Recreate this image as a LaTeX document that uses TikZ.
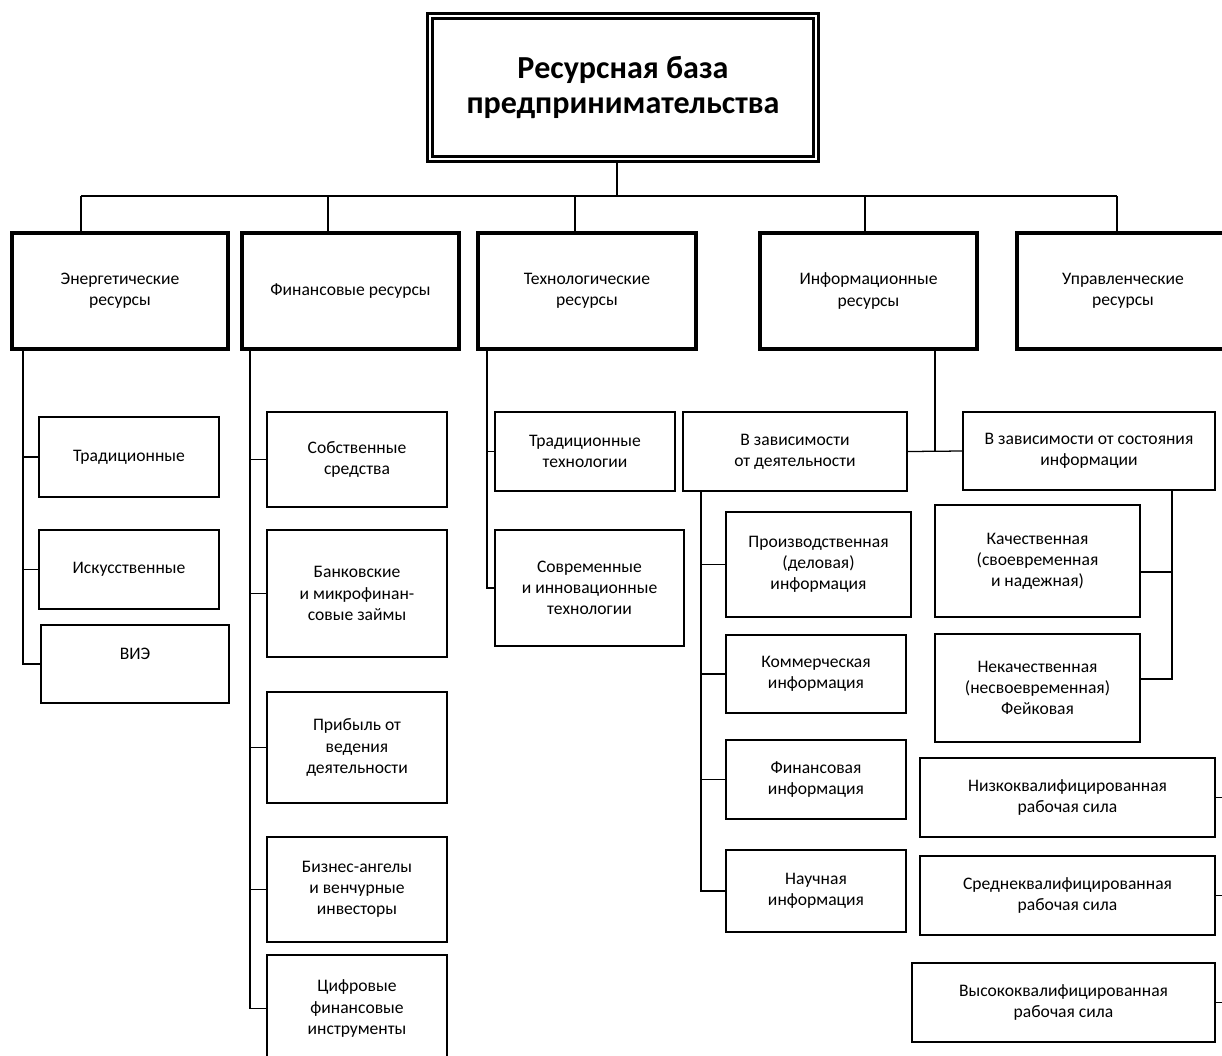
\documentclass[tikz,border=0pt]{standalone}
\usepackage{fontspec}
\setmainfont{Carlito}
\usetikzlibrary{calc}

% box from its corners (in px of the sketch): name, style, x1, y1, x2, y2, text
\newcommand{\resbox}[7]{%
  \pgfmathsetmacro{\bw}{(#5-#3)*0.025}%
  \pgfmathsetmacro{\bh}{(#6-#4)*0.025}%
  \node[#2, minimum width=\bw cm, minimum height=\bh cm] (#1) at ({(#3+#5)/2},{(#4+#6)/2}) {#7};%
}

\begin{document}
\begin{tikzpicture}[x=0.025cm, y=-0.025cm,
  base/.style={align=center, inner sep=0pt, font=\fontsize{12.5}{15}\selectfont},
  head/.style={base, draw, line width=2.4pt},
  item/.style={base, draw, line width=1.5pt},
  topbox/.style={draw, double, line width=1.8pt, double distance=2pt, align=center, inner sep=0pt, font=\fontsize{22.8}{25.5}\selectfont\bfseries},
  link/.style={line width=0.9pt}]
\useasboundingbox (0,0) rectangle (1222,1055);

\resbox{Top}{topbox}{430}{16}{816}{159}{Ресурсная база\\предпринимательства}

\resbox{Energy}{head}{12}{233}{228}{349}{Энергетические\\ресурсы}
\resbox{Finance}{head}{242}{233}{459}{349}{Финансовые ресурсы}
\resbox{Tech}{head}{478}{233}{696}{349}{Технологические\\ресурсы}
\resbox{Info}{head}{760}{233}{977}{349}{Информационные\\ресурсы}
\resbox{Manage}{head}{1017}{233}{1229}{349}{Управленческие\\ресурсы}

\coordinate (Bar) at (617,196);
\coordinate (BarL) at (81,196);
\coordinate (BarR) at (1117,196);
\draw[link] (Top.south -| Bar) -- (Bar);
\draw[link] (BarL) -- (BarR);
\foreach \n/\x in {Energy/81, Finance/328, Tech/575, Info/865, Manage/1117}{
  \coordinate (d\n) at (\x,196);
  \draw[link] (d\n) -- (d\n |- \n.north);
}

\resbox{Trad}{item}{39}{417}{219}{497}{Традиционные}
\resbox{Artif}{item}{39}{530}{219}{609}{Искусственные}
\resbox{Vie}{item}{41}{625}{229}{703}{ВИЭ\\\mbox{}}
\coordinate (eL) at (23,349);
\draw[link] (eL) |- (Vie.west);
\foreach \n in {Trad,Artif}
  \draw[link] (eL |- \n.west) -- (\n.west);

\resbox{Own}{item}{267}{412}{447}{507}{Собственные\\средства}
\resbox{Loans}{item}{267}{530}{447}{657}{Банковские\\и микрофинан-\\совые займы}
\resbox{Profit}{item}{267}{692}{447}{803}{Прибыль от\\ведения\\деятельности}
\resbox{Angels}{item}{267}{837}{447}{942}{Бизнес-ангелы\\и венчурные\\инвесторы}
\resbox{Digital}{item}{267}{955}{447}{1062}{Цифровые\\финансовые\\инструменты}
\coordinate (fL) at (250,349);
\draw[link] (fL) |- (Digital.west);
\foreach \n in {Own,Loans,Profit,Angels}
  \draw[link] (fL |- \n.west) -- (\n.west);

\resbox{TradTech}{item}{495}{412}{675}{491}{Традиционные\\технологии}
\resbox{Modern}{item}{495}{530}{684}{646}{Современные\\и инновационные\\технологии}
\coordinate (tL) at (487,349);
\draw[link] (tL) |- (Modern.west);
\draw[link] (tL |- TradTech.west) -- (TradTech.west);

\resbox{ByAct}{item}{683}{412}{907}{491}{В зависимости\\от деятельности}
\resbox{ByState}{item}{963}{412}{1215}{490}{В зависимости от состояния\\информации}
\coordinate (iL) at (935,349);
\draw[link] (iL) -- (iL |- ByAct.east);
\draw[link] (ByAct.east) -- (ByState.west);

\resbox{Prod}{item}{726}{512}{911}{617}{Производственная\\(деловая)\\информация}
\resbox{Comm}{item}{726}{635}{906}{713}{Коммерческая\\информация}
\resbox{FinInfo}{item}{726}{740}{906}{819}{Финансовая\\информация}
\resbox{Sci}{item}{726}{850}{906}{932}{Научная\\информация}
\coordinate (aL) at (701,491);
\draw[link] (aL) |- (Sci.west);
\foreach \n in {Prod,Comm,FinInfo}
  \draw[link] (aL |- \n.west) -- (\n.west);

\resbox{Qual}{item}{935}{505}{1140}{617}{Качественная\\(своевременная\\и надежная)}
\resbox{Fake}{item}{935}{634}{1140}{742}{Некачественная\\(несвоевременная)\\Фейковая}
\coordinate (sL) at (1172,490);
\draw[link] (sL) |- (Fake.5);
\draw[link] (sL |- Qual.-6) -- (Qual.-6);

\resbox{Low}{item}{920}{758}{1215}{837}{Низкоквалифицированная\\рабочая сила}
\resbox{Mid}{item}{920}{856}{1215}{935}{Среднеквалифицированная\\рабочая сила}
\resbox{High}{item}{912}{963}{1215}{1042}{Высококвалифицированная\\рабочая сила}
\coordinate (mR) at (1224,0);
\foreach \n in {Low,Mid,High}
  \draw[link] (\n.east) -- (\n.east -| mR);

%%\draw [dashed] (0,0) rectangle (1222,1055);
\end{tikzpicture}
\end{document}
